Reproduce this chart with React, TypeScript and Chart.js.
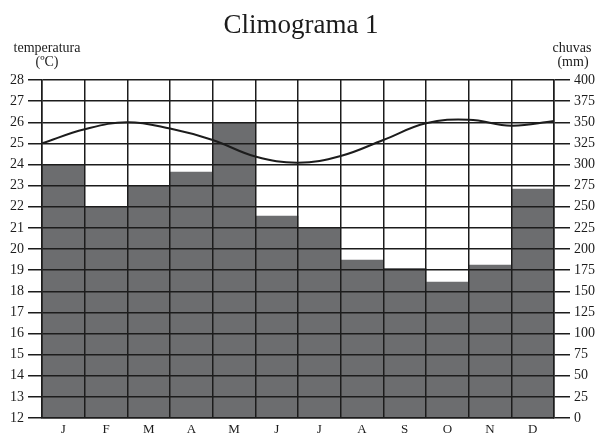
import React, { useEffect, useRef } from "react";
import { Chart, registerables } from "chart.js";

Chart.register(...registerables);

const months = ["J", "F", "M", "A", "M", "J", "J", "A", "S", "O", "N", "D"];
const rainfall = [300, 250, 275, 291, 350, 239, 225, 187, 177, 161, 181, 271];
// temperature read at month boundaries (start of Jan ... end of Dec)
const temperature = [25.0, 25.67, 26.0, 25.7, 25.16, 24.38, 24.08, 24.4, 25.16, 25.95, 26.12, 25.84, 26.06];
const tempTicks = { min: 12, max: 28, step: 1 };
const rainTicks = { min: 0, max: 400, step: 25 };

const FONT = "'Liberation Serif', 'DejaVu Serif', serif";
const INK = "#1c1c1c";

const textPlugin = {
  id: "climoText",
  afterDraw(chart: any) {
    const { ctx, chartArea } = chart;
    ctx.save();
    ctx.fillStyle = INK;
    ctx.textAlign = "center";
    ctx.textBaseline = "alphabetic";
    ctx.font = `27px ${FONT}`;
    ctx.fillText("Climograma 1", (chartArea.left + chartArea.right) / 2 + 3, 33);
    ctx.font = `14px ${FONT}`;
    ctx.fillText("temperatura", 47, 52);
    ctx.fillText("(ºC)", 47, 66);
    ctx.fillText("chuvas", 572, 52);
    ctx.fillText("(mm)", 573, 66);
    ctx.restore();
  },
};

export default function App() {
  const ref = useRef<HTMLCanvasElement | null>(null);
  useEffect(() => {
    if (!ref.current) return;
    const chart = new Chart(ref.current, {
      type: "bar",
      data: {
        labels: months,
        datasets: [
          {
            type: "bar",
            label: "chuvas",
            data: rainfall,
            xAxisID: "x",
            yAxisID: "y1",
            backgroundColor: "#6c6d6f",
            borderWidth: 0,
            barPercentage: 1,
            categoryPercentage: 1,
            grouped: false,
            order: 2,
          },
          {
            type: "line",
            label: "temperatura",
            data: temperature.map((t, i) => ({ x: i, y: t })),
            xAxisID: "x2",
            yAxisID: "y",
            borderColor: INK,
            borderWidth: 2,
            pointRadius: 0,
            tension: 0.4,
            fill: false,
            order: 1,
          } as any,
        ],
      },
      options: {
        responsive: false,
        animation: false,
        layout: { padding: { top: 80, left: 0, right: 0, bottom: 0 } },
        plugins: { legend: { display: false }, title: { display: false }, tooltip: { enabled: false } },
        scales: {
          x: {
            type: "category",
            position: "bottom",
            offset: true,
            grid: { offset: true, color: INK, lineWidth: 1.5, drawTicks: false, z: 1 },
            border: { display: true, color: INK, width: 1.5, z: 1 },
            ticks: { color: INK, font: { family: FONT, size: 13 }, padding: 4, maxRotation: 0 },
            afterFit(scale: any) { scale.height = 15; },
          },
          x2: {
            type: "linear",
            axis: "x",
            position: "bottom",
            display: false,
            offset: false,
            grid: { offset: false },
            min: 0,
            max: 12,
          },
          y: {
            type: "linear",
            position: "left",
            min: tempTicks.min,
            max: tempTicks.max,
            grid: { color: INK, lineWidth: 1.5, tickLength: 14, tickColor: INK, z: 1 },
            border: { display: true, color: INK, width: 1.5, z: 1 },
            ticks: { stepSize: tempTicks.step, color: INK, font: { family: FONT, size: 14 }, padding: 4 },
            afterFit(scale: any) { scale.width = 42; },
          },
          y1: {
            type: "linear",
            position: "right",
            min: rainTicks.min,
            max: rainTicks.max,
            grid: { drawOnChartArea: false, color: INK, lineWidth: 1.5, tickLength: 16, z: 1 },
            border: { display: true, color: INK, width: 1.5, z: 1 },
            ticks: { stepSize: rainTicks.step, color: INK, font: { family: FONT, size: 14 }, padding: 4 },
            afterFit(scale: any) { scale.width = 43; },
          },
        },
      },
      plugins: [textPlugin],
    } as any);
    return () => chart.destroy();
  }, []);
  return (
    <div style={{ position: "absolute", left: 0, top: 0, width: 597, height: 433, background: "#fff" }}>
      <canvas ref={ref} width={597} height={433} style={{ width: 597, height: 433 }} />
    </div>
  );
}
